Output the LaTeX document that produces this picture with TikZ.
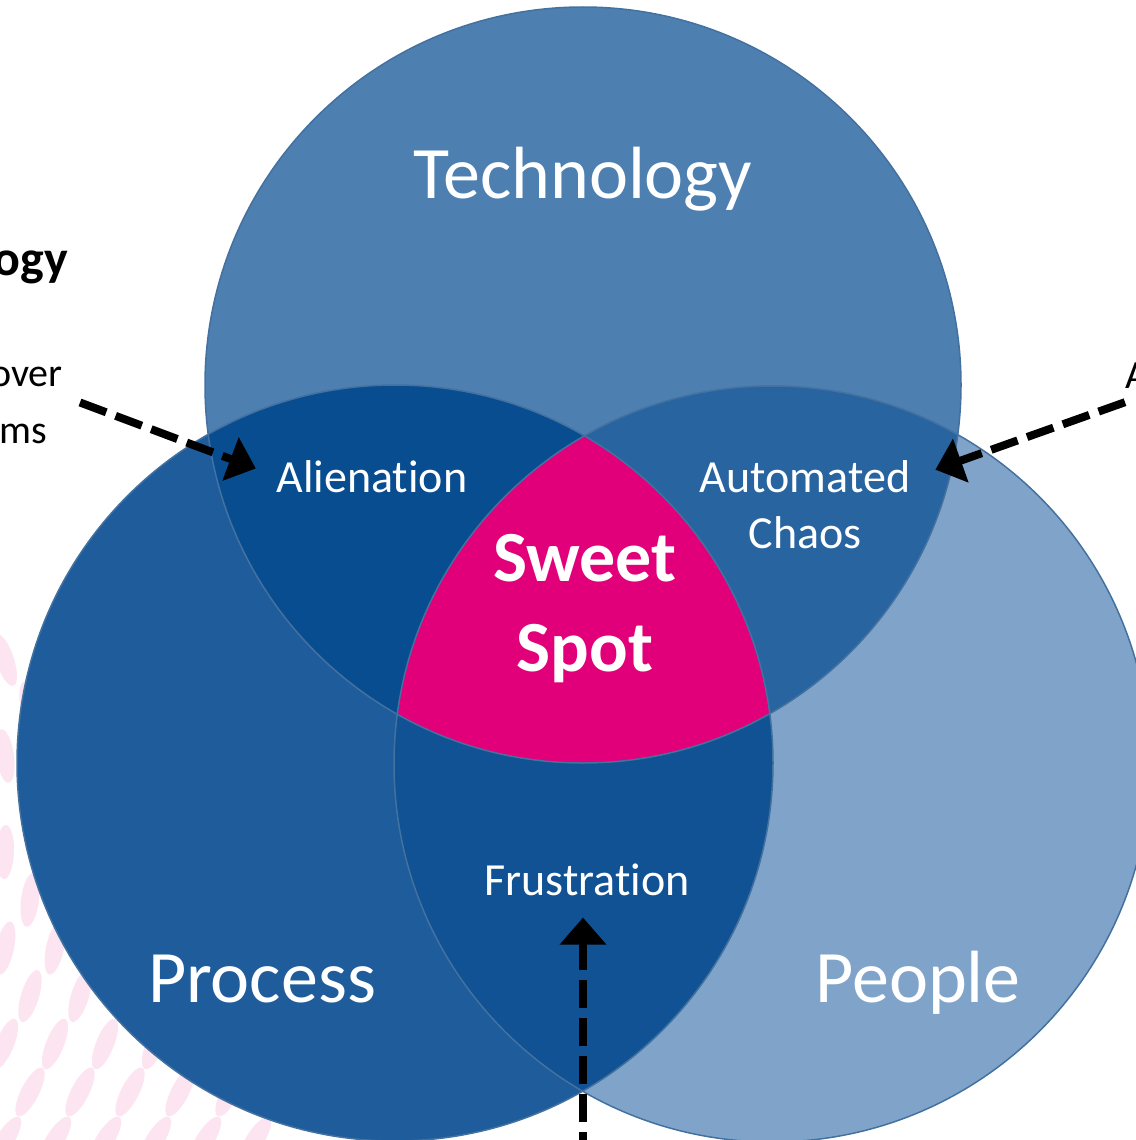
\documentclass[tikz,border=0pt]{standalone}
\usepackage{fontspec}
\setmainfont{Carlito}[Ligatures=NoCommon]
\usetikzlibrary{arrows.meta}

\definecolor{techblue}{HTML}{4D7FB0}
\definecolor{procblue}{HTML}{1E5C9B}
\definecolor{peopleblue}{HTML}{80A4C9}
\definecolor{alienblue}{HTML}{094D91}
\definecolor{chaosblue}{HTML}{2864A0}
\definecolor{frustblue}{HTML}{105293}
\definecolor{edgeblue}{HTML}{4371A0}
\definecolor{sweetpink}{HTML}{E2007A}
\definecolor{dotpink}{HTML}{FCE5F1}

\begin{document}
\begin{tikzpicture}[
        x=1pt, y=-1pt,
        bigtext/.style={text=white, inner sep=0pt, font=\fontsize{74}{80}\selectfont},
        smalltext/.style={text=white, inner sep=0pt, align=center, font=\fontsize{46}{56}\selectfont},
        sweettext/.style={text=white, inner sep=0pt, align=center, font=\fontsize{72}{90}\selectfont\bfseries},
        note/.style={text=black, inner sep=0pt, font=\fontsize{40}{48}\selectfont},
        rim/.style={draw=edgeblue, line width=1.5pt},
        pointer/.style={line width=8pt, dash pattern=on 28pt off 10pt, -{Triangle[length=27pt,width=45pt]}}
    ]
    \useasboundingbox (0,0) rectangle (1135,1140);

    % BACKGROUND DOTS
    \foreach \row in {0,...,10}{
        \foreach \col in {0,...,5}{
            \pgfmathsetmacro{\dx}{\col*50 + mod(\row,2)*25 + 5}
            \pgfmathsetmacro{\dy}{660 + \row*48}
            \pgfmathsetmacro{\tilt}{18 - \row*5}
            \fill[dotpink, rotate around={\tilt:(\dx,\dy)}] (\dx,\dy) ellipse [x radius=9pt, y radius=27pt];
        }
    }

    % CIRCLES
    \coordinate (techc) at (583,385);
    \coordinate (procc) at (395,763);
    \coordinate (peoplec) at (772,764);
    \fill[techblue] (techc) circle (378pt);
    \fill[procblue] (procc) circle (378pt);
    \fill[peopleblue] (peoplec) circle (378pt);

    % OVERLAPS
    \begin{scope}
        \clip (procc) circle (378pt);
        \fill[frustblue] (peoplec) circle (378pt);
    \end{scope}
    \begin{scope}
        \clip (techc) circle (378pt);
        \fill[alienblue] (procc) circle (378pt);
        \fill[chaosblue] (peoplec) circle (378pt);
        \clip (procc) circle (378pt);
        \fill[sweetpink] (peoplec) circle (378pt);
    \end{scope}

    % OUTLINES
    \draw[rim] (techc) circle (378pt);
    \draw[rim] (procc) circle (378pt);
    \draw[rim] (peoplec) circle (378pt);

    % LABELS
    \node[bigtext, anchor=base] (tech) at (583,198) {Technology};
    \node[bigtext, anchor=base] (proc) at (262,1002) {Process};
    \node[bigtext, anchor=base] (people) at (918,1002) {People};
    \node[smalltext, anchor=base] (alien) at (372,492) {Alienation};
    \node[smalltext] (chaos) at (805,505) {Automated\\Chaos};
    \node[sweettext] (sweet) at (585,609) {Sweet\\Spot};
    \node[smalltext, anchor=base] (frust) at (587,895) {Frustration};

    % SIDE NOTES
    \node[note, anchor=base east, font=\fontsize{50}{60}\selectfont\bfseries] (lhead) at (68,275) {ogy};
    \node[note, anchor=base east] (over) at (63,386) {over};
    \node[note, anchor=base east] (ms) at (47,443) {ms};
    \node[note, anchor=base west] (rnote) at (1125,388) {A};
    \coordinate (fbot) at (583,1160);

    % POINTERS
    \draw[pointer, shorten >=22pt] ([xshift=17pt,yshift=-16pt]over.south east) -- (alien.west);
    \draw[pointer] ([yshift=-14pt]rnote.south west) -- ([xshift=25pt,yshift=-9pt]chaos.north east);
    \draw[pointer, shorten >=22pt] (fbot) -- (fbot |- frust.south);

\end{tikzpicture}
\end{document}
